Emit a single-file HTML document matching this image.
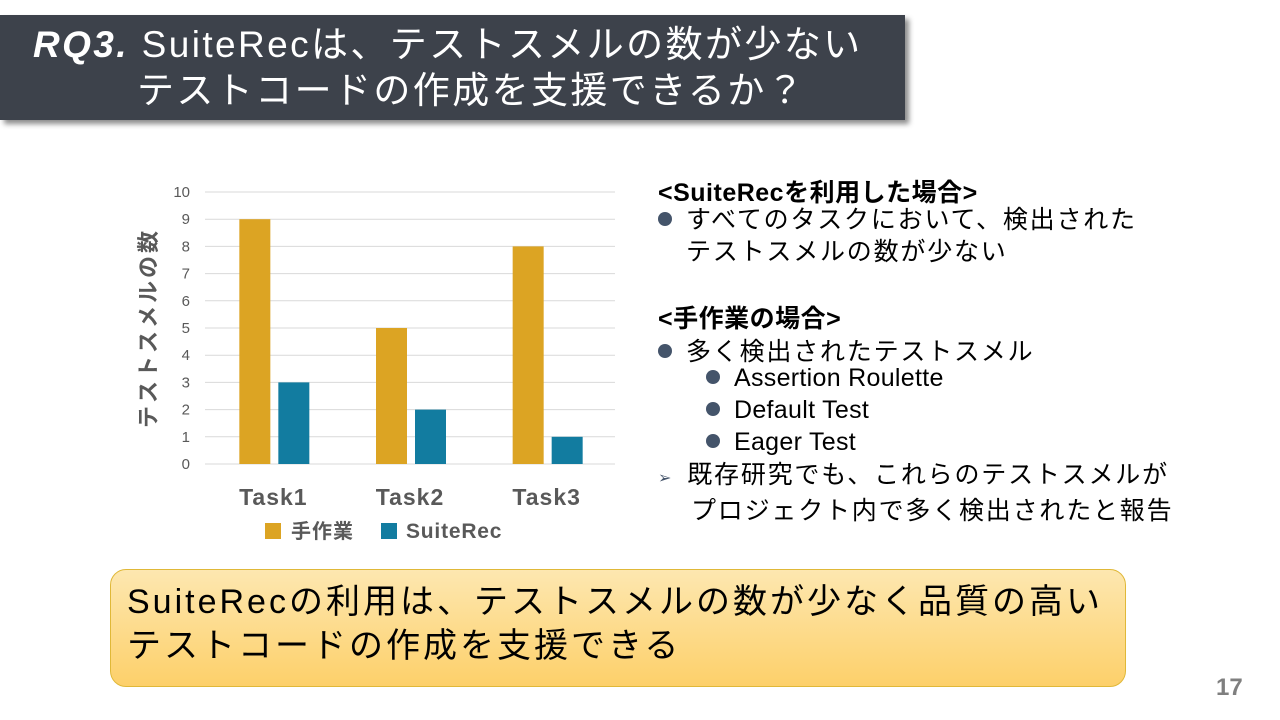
<!DOCTYPE html>
<html><head><meta charset="utf-8"><style>
body{margin:0;width:1280px;height:720px;background:#fff;position:relative;overflow:hidden;font-family:"Liberation Sans","Noto Sans CJK JP",sans-serif}
.t{position:absolute;white-space:nowrap}
#title{position:absolute;left:0;top:15px;width:905px;height:105px;background:#3d424b;box-shadow:4px 4px 5px rgba(0,0,0,.45);color:#fff;font-size:37px;line-height:46px;letter-spacing:2.4px}
.bul{color:#000;font-size:25px;letter-spacing:1.8px}
.dot{display:inline-block;width:14px;height:14px;border-radius:50%;background:#44546a;margin-right:14px;vertical-align:2px}
#concl{position:absolute;left:110px;top:569px;width:1016px;height:118px;border:1px solid #e0b838;border-radius:16px;background:linear-gradient(#fde7b0,#fdd06a);font-size:34px;line-height:44px;padding:10px 0 0 16px;box-sizing:border-box;letter-spacing:3px}
</style></head><body>
<div id="title">
<div class="t" style="left:33px;top:7px"><b><i>RQ3.</i></b> SuiteRecは、テストスメルの数が少ない</div>
<div class="t" style="left:137px;top:53px">テストコードの作成を支援できるか？</div>
</div>
<svg id="chart" width="640" height="560" style="position:absolute;left:0;top:0"></svg>
<div class="t bul" style="left:658px;top:173px;font-weight:bold;letter-spacing:0.5px">&lt;SuiteRecを利用した場合&gt;</div>
<div class="t bul" style="left:658px;top:204px;line-height:32px"><span class="dot"></span>すべてのタスクにおいて、検出された<br><span style="margin-left:28px">テストスメルの数が少ない</span></div>
<div class="t bul" style="left:658px;top:299px;font-weight:bold;letter-spacing:0.5px">&lt;手作業の場合&gt;</div>
<div class="t bul" style="left:658px;top:332px"><span class="dot"></span>多く検出されたテストスメル</div>
<div class="t bul" style="left:706px;top:364px;letter-spacing:0.3px"><span class="dot"></span>Assertion Roulette</div>
<div class="t bul" style="left:706px;top:396px;letter-spacing:0.3px"><span class="dot"></span>Default Test</div>
<div class="t bul" style="left:706px;top:428px;letter-spacing:0.3px"><span class="dot"></span>Eager Test</div>
<div class="t bul" style="left:658px;top:459px;line-height:32px"><span style="font-size:16px;color:#44546a;margin-right:14px">➢</span>既存研究でも、これらのテストスメルが<br><span style="margin-left:33px">プロジェクト内で多く検出されたと報告</span></div>
<div id="concl">SuiteRecの利用は、テストスメルの数が少なく品質の高い<br>テストコードの作成を支援できる</div>
<div class="t" style="left:1216px;top:674px;font-size:24px;color:#7f7f7f;font-weight:bold">17</div>
<script>
const categories=["Task1","Task2","Task3"];
const manualValues=[9,5,8];
const suiteValues=[3,2,1];
const yTicks=[0,1,2,3,4,5,6,7,8,9,10];
const svg=document.getElementById('chart');const NS="http://www.w3.org/2000/svg";
const x0=205,x1=615,y0=464,y1=192;
const yS=v=>y0-(y0-y1)*v/10;
const cx=i=>x0+(x1-x0)/categories.length*(i+0.5);
function mk(t,a,txt){const e=document.createElementNS(NS,t);for(const k in a)e.setAttribute(k,a[k]);if(txt!==undefined)e.textContent=txt;svg.appendChild(e);return e;}
yTicks.forEach(v=>{
 const l=mk('line',{x1:x0,x2:x1,y1:yS(v),y2:yS(v),stroke:'#d9d9d9','stroke-width':1});
 
 
 const t=mk('text',{x:190,y:yS(v)+5,'text-anchor':'end','font-size':15,fill:'#595959'},v);
 
 
});
categories.forEach((c,i)=>{
 const a=mk('rect',{x:cx(i)-34,y:yS(manualValues[i]),width:31,height:y0-yS(manualValues[i]),fill:'#dca423'});
 
 
 const b=mk('rect',{x:cx(i)+5,y:yS(suiteValues[i]),width:31,height:y0-yS(suiteValues[i]),fill:'#127ca0'});
 
 
 const t=mk('text',{x:cx(i),y:505,'text-anchor':'middle','font-size':23,fill:'#595959','font-weight':'bold','letter-spacing':1},c);
 
 
});
const yt=mk('text',{transform:'translate(156,328) rotate(-90)','text-anchor':'middle','font-size':22,'font-weight':'bold',fill:'#595959','letter-spacing':3},'テストスメルの数');


const l1=mk('rect',{x:265,y:523,width:16,height:16,fill:'#dca423'});


const lt1=mk('text',{x:291,y:538,'font-size':20,'font-weight':'bold',fill:'#595959','letter-spacing':1},'手作業');


const l2=mk('rect',{x:381,y:523,width:16,height:16,fill:'#127ca0'});


const lt2=mk('text',{x:406,y:538,'font-size':21,'font-weight':'bold',fill:'#595959','letter-spacing':0.8},'SuiteRec');


</script>
</body></html>
